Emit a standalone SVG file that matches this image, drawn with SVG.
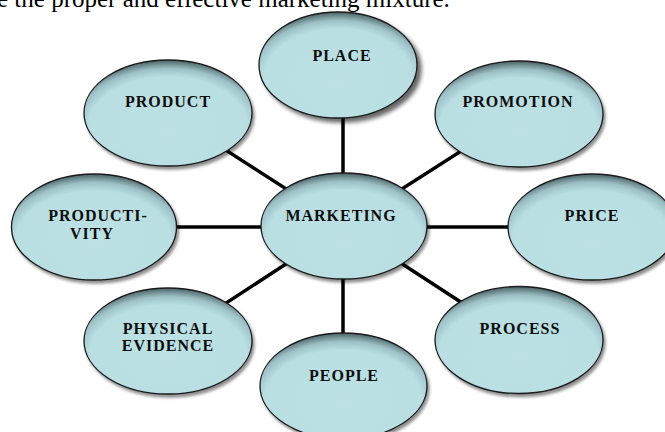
<svg xmlns="http://www.w3.org/2000/svg" width="665" height="432" viewBox="0 0 665 432">
  <defs>
    <!-- pale blue fill with a dark rim along the upper edge -->
    <radialGradient id="bubbleFill" cx="0.5" cy="0.62" r="0.62" fx="0.5" fy="0.66">
      <stop offset="0" stop-color="#bde1e5"/>
      <stop offset="0.76" stop-color="#b9dfe3"/>
      <stop offset="0.88" stop-color="#9cc0c5"/>
      <stop offset="1" stop-color="#4a6266"/>
    </radialGradient>
    <filter id="softShadow" x="-20%" y="-20%" width="150%" height="150%">
      <feGaussianBlur in="SourceAlpha" stdDeviation="1.6"/>
      <feOffset dx="2" dy="3" result="blur"/>
      <feComponentTransfer><feFuncA type="linear" slope="0.45"/></feComponentTransfer>
      <feMerge><feMergeNode/><feMergeNode in="SourceGraphic"/></feMerge>
    </filter>
    <filter id="heavyShadow" x="-20%" y="-20%" width="150%" height="150%">
      <feGaussianBlur in="SourceAlpha" stdDeviation="2"/>
      <feOffset dx="4" dy="4" result="blur"/>
      <feComponentTransfer><feFuncA type="linear" slope="0.6"/></feComponentTransfer>
      <feMerge><feMergeNode/><feMergeNode in="SourceGraphic"/></feMerge>
    </filter>
  </defs>
  <style>
    .bubble { fill: url(#bubbleFill); stroke: #1a1a1a; stroke-width: 1.3; filter: url(#softShadow); }
    .label { font-family: "Liberation Serif", "Times New Roman", serif; font-weight: bold; font-size: 16px; letter-spacing: 1px; fill: #0d0d0d; text-anchor: middle; }
    .link { stroke: #000; stroke-width: 3.5; fill: none; }
    .body { font-family: "Liberation Serif", "Times New Roman", serif; font-size: 25px; fill: #000; }
  </style>

  <rect width="665" height="432" fill="#fff"/>

  <!-- running text line, partly above the page edge -->
  <text class="body" x="-3" y="7">e the proper and effective marketing mixture.</text>

  <!-- spokes from the hub -->
  <g id="connectors">
    <line class="link" x1="343" y1="100" x2="343" y2="226"/>
    <line class="link" x1="168" y1="113" x2="344" y2="226"/>
    <line class="link" x1="519" y1="114" x2="344" y2="226"/>
    <line class="link" x1="94" y1="227" x2="592" y2="227"/>
    <line class="link" x1="168" y1="341" x2="344" y2="226"/>
    <line class="link" x1="519" y1="340" x2="344" y2="226"/>
    <line class="link" x1="343" y1="226" x2="343" y2="386"/>
  </g>

  <g id="place">
    <ellipse class="bubble" cx="338" cy="65" rx="79" ry="53" style="filter:url(#heavyShadow)"/>
    <text class="label" x="342" y="61">PLACE</text>
  </g>
  <g id="product">
    <ellipse class="bubble" cx="168" cy="113" rx="84" ry="53"/>
    <text class="label" x="168" y="107">PRODUCT</text>
  </g>
  <g id="promotion">
    <ellipse class="bubble" cx="519" cy="114" rx="84" ry="53"/>
    <text class="label" x="518" y="107">PROMOTION</text>
  </g>
  <g id="productivity">
    <ellipse class="bubble" cx="94" cy="227" rx="82.5" ry="53"/>
    <text class="label" x="98" y="221">PRODUCTI-</text>
    <text class="label" x="92" y="238.5">VITY</text>
  </g>
  <g id="marketing">
    <ellipse class="bubble" cx="344" cy="226" rx="83" ry="53"/>
    <text class="label" x="341" y="221">MARKETING</text>
  </g>
  <g id="price">
    <ellipse class="bubble" cx="592" cy="227" rx="84" ry="53"/>
    <text class="label" x="592" y="221">PRICE</text>
  </g>
  <g id="physical-evidence">
    <ellipse class="bubble" cx="168" cy="341" rx="84" ry="53"/>
    <text class="label" x="168" y="333.5">PHYSICAL</text>
    <text class="label" x="168" y="351">EVIDENCE</text>
  </g>
  <g id="process">
    <ellipse class="bubble" cx="519" cy="340" rx="84" ry="53.5"/>
    <text class="label" x="520" y="334">PROCESS</text>
  </g>
  <g id="people">
    <ellipse class="bubble" cx="343.5" cy="386" rx="83.5" ry="53"/>
    <text class="label" x="344" y="381">PEOPLE</text>
  </g>
</svg>
